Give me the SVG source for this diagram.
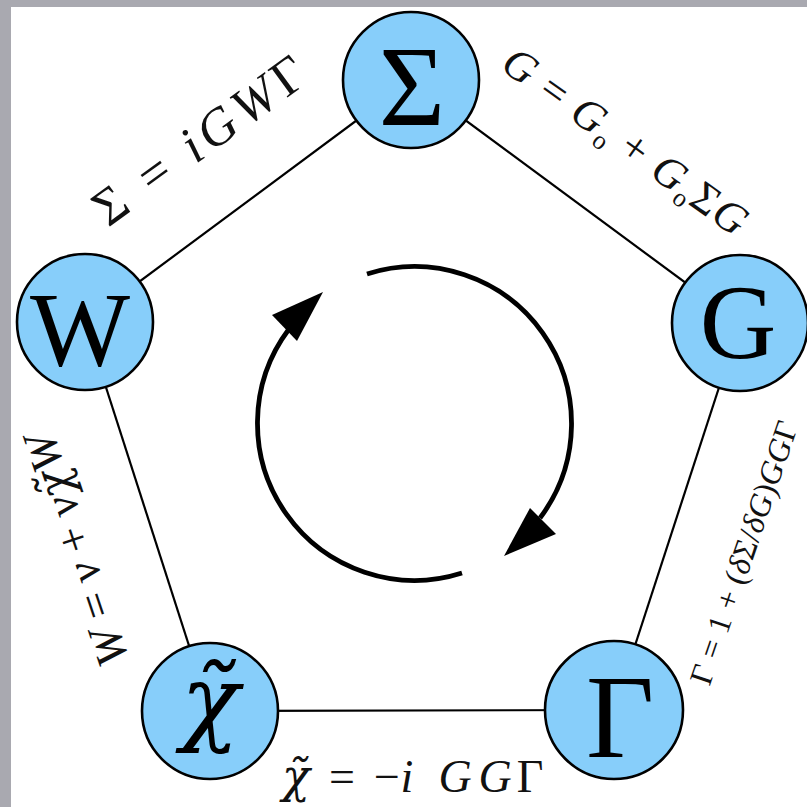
<svg xmlns="http://www.w3.org/2000/svg" width="807" height="807" viewBox="0 0 807 807">
<defs>
<style>
.edge{stroke:#000;stroke-width:2.2;fill:none}
.node circle{fill:#87cefa;stroke:#000;stroke-width:2.6}
.big{font-family:"Liberation Serif","Times New Roman",serif;fill:#000}
.lbl{font-family:"Liberation Serif","Times New Roman",serif;fill:#111}
.it{font-style:italic}
.chi{font-family:"DejaVu Serif",serif;font-style:italic}
.arc{stroke:#000;stroke-width:4.8;fill:none}
.head{fill:#000}
</style>
</defs>
<rect x="0" y="0" width="807" height="807" fill="#a9a9b0"/>
<rect x="11" y="7" width="796" height="800" fill="#fff"/>
<g id="connectors">
<line class="edge" x1="411" y1="80" x2="85" y2="322"/>
<line class="edge" x1="411" y1="80" x2="740" y2="323"/>
<line class="edge" x1="740" y1="323" x2="614" y2="710"/>
<line class="edge" x1="614" y1="710" x2="210" y2="711"/>
<line class="edge" x1="210" y1="711" x2="85" y2="322"/>
</g>
<g id="cycle">
<path class="arc" d="M367 274 A157 157 0 0 1 540 518"/>
<polygon class="head" points="530,508 556,534 504,556"/>
<path class="arc" d="M462 573 A157 157 0 0 1 289 329"/>
<polygon class="head" points="272,315 297,341 323,292"/>
</g>
<g id="node-sigma" class="node">
<circle cx="411" cy="80" r="68"/>
<text class="big" x="412" y="125" font-size="114" text-anchor="middle">Σ</text>
</g>
<g id="node-w" class="node">
<circle cx="85" cy="322" r="68"/>
<text class="big" x="80" y="365" font-size="106" text-anchor="middle">W</text>
</g>
<g id="node-g" class="node">
<circle cx="740" cy="323" r="68"/>
<text class="big" x="738" y="358" font-size="106" text-anchor="middle">G</text>
</g>
<g id="node-gamma" class="node">
<circle cx="614" cy="710" r="69"/>
<text class="big" x="620" y="757" font-size="118" text-anchor="middle">Γ</text>
</g>
<g id="node-chi" class="node">
<circle cx="210" cy="711" r="68"/>
<text class="big chi" x="210" y="733" font-size="96" text-anchor="middle">χ̃</text>
</g>
<g id="labels">
<text class="lbl" font-size="52" transform="translate(209.5,154.3) rotate(-36)" text-anchor="middle" textLength="250">Σ = <tspan class="it">iGW</tspan>Γ</text>
<text class="lbl" font-size="44" transform="translate(617,153) rotate(35.6)" text-anchor="middle" textLength="290"><tspan class="it">G</tspan> = <tspan class="it">G</tspan><tspan font-size="26" dy="8">o</tspan><tspan dy="-8"> + </tspan><tspan class="it">G</tspan><tspan font-size="26" dy="8">o</tspan><tspan dy="-8">Σ</tspan><tspan class="it">G</tspan></text>
<text class="lbl" font-size="46" transform="translate(91,545) rotate(-108.5)" text-anchor="middle"><tspan class="it">W</tspan> = <tspan class="it">v</tspan> + <tspan class="it">v</tspan><tspan class="chi">χ̃</tspan><tspan class="it">W</tspan></text>
<text class="lbl" font-size="32" transform="translate(754,556) rotate(-71.2)" text-anchor="middle" textLength="276">Γ = 1 + (<tspan class="it">δ</tspan>Σ/<tspan class="it">δG</tspan>)<tspan class="it">GG</tspan>Γ</text>
<g font-size="46">
<text class="lbl chi" x="296" y="792" text-anchor="middle">χ̃</text>
<text class="lbl" x="342" y="792" text-anchor="middle">=</text>
<text class="lbl" x="387" y="792" text-anchor="middle">−</text>
<text class="lbl it" x="407" y="792" text-anchor="middle">i</text>
<text class="lbl it" x="455" y="792" text-anchor="middle">G</text>
<text class="lbl it" x="495" y="792" text-anchor="middle">G</text>
<text class="lbl" x="530" y="792" text-anchor="middle">Γ</text>
</g>
</g>
</svg>
